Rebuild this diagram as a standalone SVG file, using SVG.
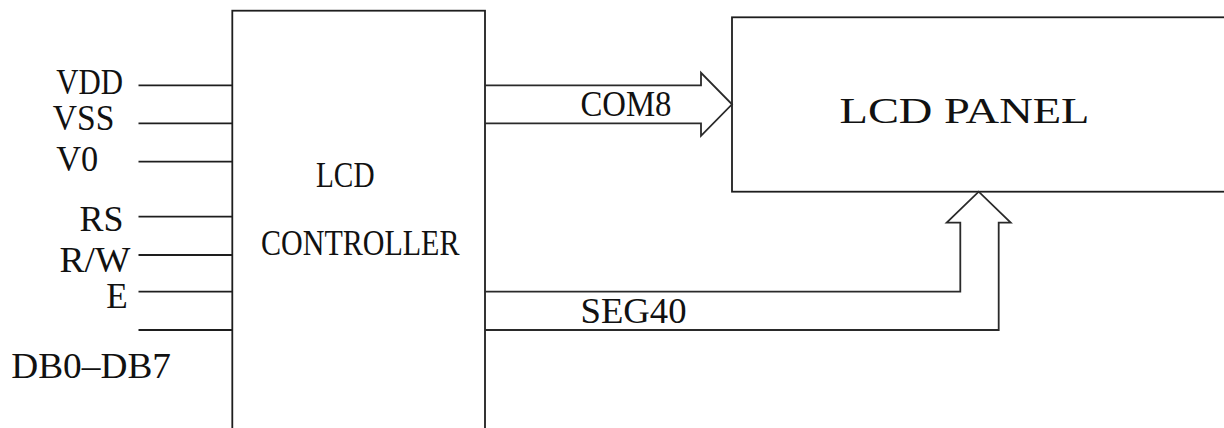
<svg xmlns="http://www.w3.org/2000/svg" width="1224" height="428" viewBox="0 0 1224 428">
<style>
.box{fill:#fff;stroke:#1e1e1e;stroke-width:1.8}
.ln{fill:none;stroke:#1e1e1e;stroke-width:1.8}
.arw{fill:none;stroke:#2a2a2a;stroke-width:1.8;stroke-linejoin:miter}
text{font-family:"Liberation Serif","Times New Roman",serif;fill:#111;font-size:36px}
</style>
<rect width="1224" height="428" fill="#fff"/>
<g id="controller">
<rect class="box" x="232.3" y="10.7" width="252.7" height="500"/>
<text x="316" y="186.7" font-size="38" textLength="58.5" lengthAdjust="spacingAndGlyphs">LCD</text>
<text x="261" y="254.5" font-size="38" textLength="198.5" lengthAdjust="spacingAndGlyphs">CONTROLLER</text>
</g>
<g id="panel">
<rect class="box" x="732" y="17.3" width="600" height="174.4"/>
<text x="839.5" y="123.3" font-size="46" textLength="250" lengthAdjust="spacingAndGlyphs">LCD PANEL</text>
</g>
<g id="pins">
<text id="pin-vdd" x="56.2" y="94" textLength="66.8" lengthAdjust="spacingAndGlyphs">VDD</text>
<text id="pin-vss" x="52.8" y="130" textLength="61.5" lengthAdjust="spacingAndGlyphs">VSS</text>
<text id="pin-v0" x="56.2" y="170.7" textLength="42" lengthAdjust="spacingAndGlyphs">V0</text>
<text id="pin-rs" x="79.5" y="230.7" textLength="44" lengthAdjust="spacingAndGlyphs">RS</text>
<text id="pin-rw" x="59.5" y="272" font-size="32" textLength="70.8" lengthAdjust="spacingAndGlyphs">R/W</text>
<text id="pin-e" x="106.2" y="308" font-size="32" textLength="21.5" lengthAdjust="spacingAndGlyphs">E</text>
<text id="pin-db" x="11.2" y="378" textLength="159.8" lengthAdjust="spacingAndGlyphs">DB0–DB7</text>
</g>
<g id="connectors">
<line class="ln" x1="138.5" y1="85.3" x2="232.3" y2="85.3"/>
<line class="ln" x1="138.5" y1="123.3" x2="232.3" y2="123.3"/>
<line class="ln" x1="138.5" y1="161.7" x2="232.3" y2="161.7"/>
<line class="ln" x1="138.5" y1="216.7" x2="232.3" y2="216.7"/>
<line class="ln" x1="138.5" y1="255" x2="232.3" y2="255"/>
<line class="ln" x1="138.5" y1="291.7" x2="232.3" y2="291.7"/>
<line class="ln" x1="138.5" y1="330" x2="232.3" y2="330"/>
<g id="com8">
<path class="arw" d="M485,85.3 H701 V72.8 L732,104.3 L701,135.8 V123.3 H485"/>
<text x="580.5" y="116" textLength="91" lengthAdjust="spacingAndGlyphs">COM8</text>
</g>
<g id="seg40">
<path class="arw" d="M485,291.7 H960.3 V222.7 H946.7 L978.7,191.7 L1010.7,222.7 H998.7 V330 H485"/>
<text x="580.5" y="323.3" textLength="106" lengthAdjust="spacingAndGlyphs">SEG40</text>
</g>
</g>
</svg>
